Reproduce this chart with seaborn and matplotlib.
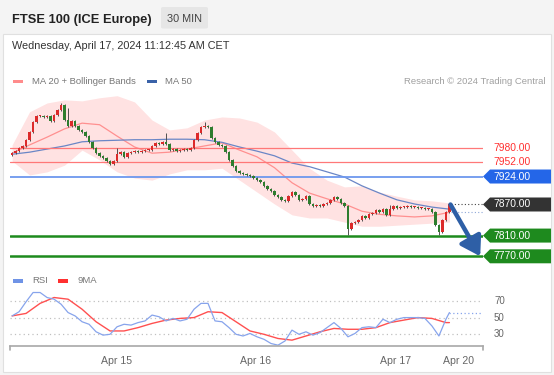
import matplotlib
matplotlib.use("Agg")
import matplotlib.pyplot as plt
from matplotlib.patches import Rectangle, Polygon, FancyBboxPatch
from matplotlib.transforms import IdentityTransform
import numpy as np
import pandas as pd
import seaborn as sns

# 30 minute closes, oldest first
close = [7969, 7973, 7979, 7983, 7995, 8010, 8029, 8041, 8041, 8039,
         8041, 8031, 8043, 8052, 8062, 8033, 8022, 8031, 8022, 8014,
         8010, 8002, 7991, 7979, 7969, 7964, 7960, 7954, 7948, 7954,
         7967, 7971, 7962, 7969, 7971, 7973, 7971, 7973, 7975, 7975,
         7983, 7989, 7987, 7991, 7987, 7975, 7977, 7973, 7975, 7977,
         7975, 7979, 7995, 8008, 8020, 8022, 8020, 7998, 7991, 7985,
         7983, 7971, 7956, 7944, 7935, 7931, 7929, 7927, 7925, 7921,
         7917, 7913, 7906, 7900, 7896, 7888, 7884, 7879, 7877, 7886,
         7894, 7888, 7879, 7880, 7886, 7871, 7867, 7869, 7867, 7871,
         7873, 7879, 7884, 7880, 7873, 7867, 7823, 7834, 7836, 7840,
         7848, 7844, 7852, 7853, 7859, 7855, 7861, 7850, 7861, 7867,
         7863, 7865, 7865, 7867, 7865, 7865, 7863, 7863, 7861, 7861,
         7855, 7830, 7817, 7840, 7855, 7870]
first_open = 7965
# bars with long shadows
long_highs = {14: 8066, 16: 8056, 30: 7979, 44: 8008, 55: 8029, 108: 7869}
long_lows = {96: 7811, 122: 7811}

# indicators, one value every 5 bars
ma20 = [7969, 7985, 8000, 8016, 8027, 8024, 8002, 7981, 7969, 7971, 7977, 7983, 7989,
        7975, 7962, 7941, 7912, 7892, 7881, 7871, 7857, 7851, 7848, 7846, 7848, 7855]
ma50 = [7967, 7971, 7977, 7983, 7991, 7993, 7994, 7995, 7995, 7996, 7996, 7995, 7990,
        7981, 7973, 7964, 7950, 7943, 7933, 7923, 7906, 7892, 7879, 7871, 7865, 7861]
bb_upper = [7985, 8049, 8066, 8072, 8070, 8076, 8080, 8068, 8033, 8014, 8018, 8033, 8039,
            8037, 8029, 8010, 7975, 7940, 7917, 7904, 7906, 7894, 7886, 7879, 7877, 7873]
bb_lower = [7954, 7927, 7933, 7946, 7975, 7956, 7933, 7921, 7917, 7929, 7937, 7937, 7940,
            7917, 7894, 7871, 7850, 7844, 7844, 7836, 7828, 7828, 7830, 7832, 7834, 7836]

# RSI every 2 bars (+ last bar), its 9MA every 4 bars (+ last bar)
rsi = [52, 57, 69, 80, 80, 74, 72, 66, 56, 52, 45, 42, 33, 29, 30, 39, 42, 41, 44, 46,
       53, 51, 46, 49, 46, 48, 60, 67, 67, 46, 45, 38, 30, 28, 31, 27, 24, 19, 17, 22,
       35, 30, 33, 29, 32, 38, 44, 37, 27, 31, 38, 39, 38, 48, 44, 48, 50, 50, 50, 49,
       40, 28, 48, 56]
rsi_ma = [52, 55, 67, 74, 72, 60, 45, 34, 34, 38, 43, 47, 49, 50, 57, 56, 45, 34, 30, 25,
          23, 28, 33, 37, 36, 36, 38, 44, 47, 50, 49, 44, 44]

resistances = [7980, 7952]
pivot = 7924
last_price = 7870
supports = [7810, 7770]

day_ticks = [30, 69.5, 109.5, 127.5]
day_labels = ["Apr 15", "Apr 16", "Apr 17", "Apr 20"]

W, H = 554, 375
sns.set_theme(style="white")
plt.rcParams["font.family"] = ["Liberation Sans", "DejaVu Sans"]

fig = plt.figure(figsize=(W / 100, H / 100), dpi=100, facecolor="#f4f4f4")


def rect(x0, y0, x1, y1):
    # pixel box measured from the top left -> figure fraction
    return [x0 / W, 1 - y1 / H, (x1 - x0) / W, (y1 - y0) / H]


def ftext(x, y, s, **kw):
    fig.text(x / W, 1 - y / H, s, **kw)


fig.patches.append(Rectangle((3 / W, 1 - 372 / H), 548 / W, 338 / H, transform=fig.transFigure,
                             facecolor="white", edgecolor="#e0e0e0", lw=0.8, zorder=-2))

# header
ftext(12, 22.7, "FTSE 100 (ICE Europe)", fontsize=9.3, weight="bold", color="#222222", va="baseline")
fig.patches.append(FancyBboxPatch((161 / W, 1 - 28.5 / H), 47 / W, 21.5 / H, transform=fig.transFigure,
                                  boxstyle="round,pad=0,rounding_size=0.004", facecolor="#e6e6e6", lw=0))
ftext(184.5, 21.5, "30 MIN", fontsize=7.8, color="#444444", ha="center", va="baseline")
ftext(12, 49.3, "Wednesday, April 17, 2024 11:12:45 AM CET", fontsize=7.8, color="#333333", va="baseline")

# legends
legend_items = [(13, "#ff8c8c", "MA 20 + Bollinger Bands", 32), (147, "#3a62a8", "MA 50", 165)]
for px, col, lab, tx in legend_items:
    fig.patches.append(Rectangle((px / W, 1 - 83 / H), 10 / W, 3.5 / H, transform=fig.transFigure,
                                 facecolor=col, lw=0))
    ftext(tx, 84, lab, fontsize=6.8, color="#777777", va="baseline")
ftext(545, 84, "Research \u00a9 2024 Trading Central", fontsize=6.8, color="#a0a0a0", va="baseline", ha="right")
for px, col, lab, tx in [(13, "#6f93e6", "RSI", 32), (58, "#ff3030", "9MA", 77)]:
    fig.patches.append(Rectangle((px / W, 1 - 282.5 / H), 10 / W, 3.5 / H, transform=fig.transFigure,
                                 facecolor=col, lw=0))
    ftext(tx, 283, lab, fontsize=6.8, color="#777777", va="baseline")

# price panel
ax = fig.add_axes(rect(10, 90, 483, 262))
ax.set_xlim(-0.6, 134.6)
ax.set_ylim(7759, 8091)
ax.axis("off")
ax.patch.set_alpha(0)

bars = np.arange(len(close))
df = pd.DataFrame({"bar": bars, "open": [first_open] + close[:-1], "close": close})
df["top"] = df[["open", "close"]].max(axis=1)
df["bot"] = df[["open", "close"]].min(axis=1)
df["high"] = df["top"] + 2
df["low"] = df["bot"] - 2
for b, v in long_highs.items():
    df.loc[b, "high"] = v
for b, v in long_lows.items():
    df.loc[b, "low"] = v
df["body"] = (df["top"] - df["bot"]).clip(lower=1.5)
up = df["close"] >= df["open"]

band_bars = np.arange(0, len(close), 5)
ax.fill_between(band_bars, bb_lower, bb_upper, color="#ffe2e2", lw=0, zorder=1)
sns.lineplot(x=band_bars, y=ma20, ax=ax, color="#ff9090", lw=0.9, zorder=2)
sns.lineplot(x=band_bars, y=ma50, ax=ax, color="#6a86c6", lw=0.9, zorder=2)

for r in resistances:
    ax.axhline(r, color="#ff7878", lw=0.9, zorder=2)
ax.axhline(pivot, color="#6d97ee", lw=1.3, zorder=2)
for s in supports:
    ax.axhline(s, color="#1d8a1d", lw=1.8, zorder=2)

ax.vlines(df["bar"], df["low"], df["high"], color="#505050", lw=0.7, zorder=3)
ax.bar(df["bar"][up], df["body"][up], bottom=df["bot"][up], width=0.76, color="#dc2a2a", lw=0, zorder=4)
ax.bar(df["bar"][~up], df["body"][~up], bottom=df["bot"][~up], width=0.76, color="#2e7d2e", lw=0, zorder=4)

x_end = ax.get_xlim()[1]
ax.plot([bars[-1] + 0.5, x_end], [last_price, last_price], ls=(0, (1, 2)), color="#444444", lw=0.8)
ax.plot([bars[-1] + 0.5, x_end], [ma20[-1], ma20[-1]], ls=(0, (1, 2)), color="#8fa8d8", lw=0.8)
ax.annotate("", xy=(x_end - 0.8, supports[-1]), xytext=(bars[-1] + 0.3, last_price),
            arrowprops=dict(arrowstyle="-|>,head_length=0.95,head_width=0.6", color="#2e5fa6",
                            lw=3.2, shrinkA=0, shrinkB=0), annotation_clip=False, zorder=6)


def tag(level, face, color="white"):
    yd = ax.transData.transform((0, level))[1]
    if face is not None:
        pts = [(483, yd), (490, yd + 7), (551, yd + 7), (551, yd - 7), (490, yd - 7)]
        fig.patches.append(Polygon(pts, closed=True, transform=IdentityTransform(), facecolor=face, lw=0))
    fig.text(493 / W, yd / H, f"{level:.2f}", fontsize=7.4, color=color, va="center", ha="left")


for r in resistances:
    tag(r, None, "#ff3030")
tag(pivot, "#2466e8")
tag(last_price, "#333333")
for s in supports:
    tag(s, "#1e8a1e")

# RSI panel
rax = fig.add_axes(rect(10, 290, 483, 346))
rax.set_xlim(-0.6, 134.6)
rax.set_ylim(16, 83)
rax.patch.set_alpha(0)
rsi_bars = list(range(0, len(close) - 1, 2)) + [len(close) - 1]
rsi_ma_bars = list(range(0, len(close) - 1, 4)) + [len(close) - 1]
for lvl in [30, 50, 70]:
    rax.axhline(lvl, color="#c0c0c0", lw=0.9, ls=(0, (1, 2.5)))
    fig.text(494 / W, rax.transData.transform((0, lvl))[1] / H, str(lvl), fontsize=7,
             color="#666666", va="center")
sns.lineplot(x=rsi_ma_bars, y=rsi_ma, ax=rax, color="#ff5050", lw=1.0)
sns.lineplot(x=rsi_bars, y=rsi, ax=rax, color="#87a4ec", lw=0.9)
rax.plot([rsi_bars[-1], x_end], [rsi[-1], rsi[-1]], ls=(0, (1, 2)), color="#87a4ec", lw=0.9)
for sp in ["top", "left", "right"]:
    rax.spines[sp].set_visible(False)
rax.spines["bottom"].set_color("#a8a8a8")
rax.spines["bottom"].set_linewidth(1.2)
rax.set_yticks([])
rax.set_xticks(day_ticks)
rax.set_xticklabels(day_labels, fontsize=7.6, color="#666666")
rax.tick_params(axis="x", length=0, pad=7)
for xe in rax.get_xlim():
    rax.plot([xe, xe], [16, 11], color="#a8a8a8", lw=1.2, clip_on=False)
rax.set(xlabel="", ylabel="")

fig.savefig("out.png", dpi=100, facecolor=fig.get_facecolor())
